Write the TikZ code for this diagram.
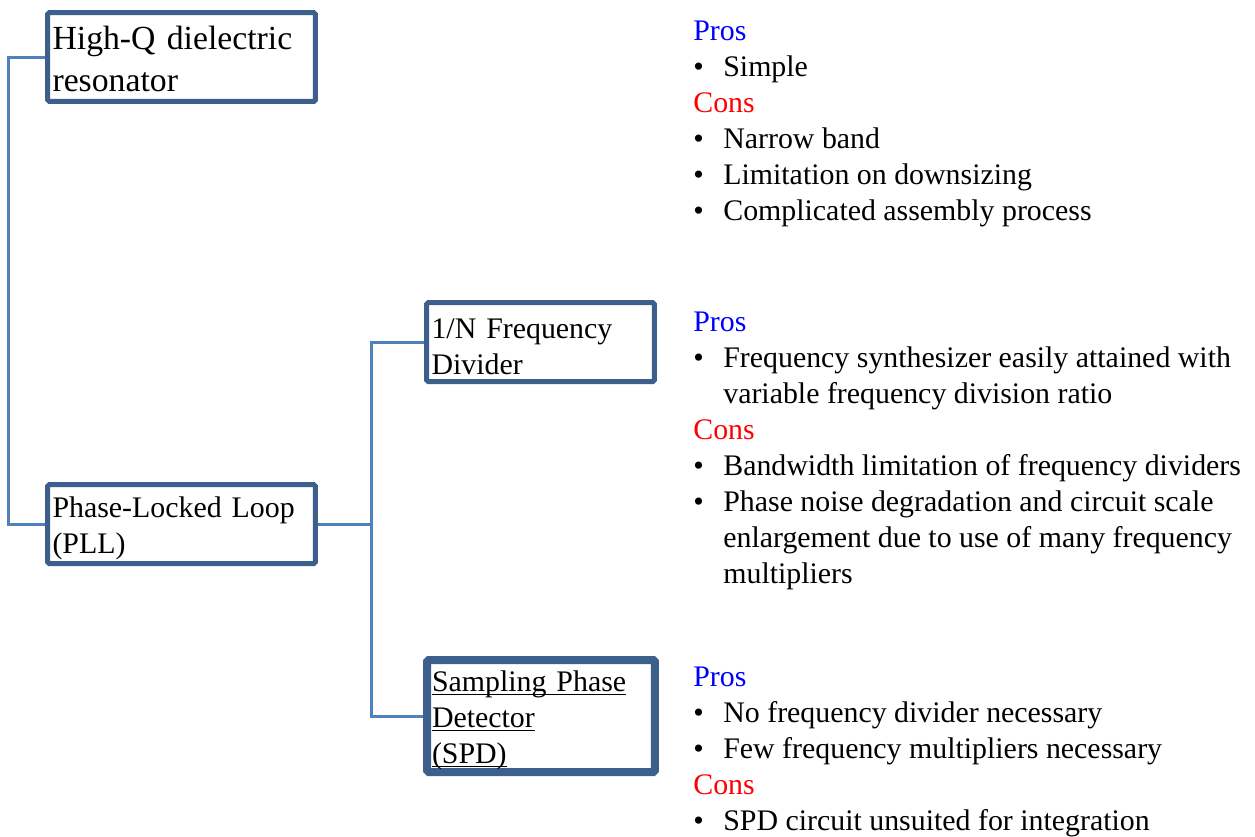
\documentclass[tikz,border=0pt]{standalone}
\usepackage{fontspec}
\setmainfont{Liberation Serif}
\definecolor{boxblue}{RGB}{60,95,140}
\definecolor{linkblue}{RGB}{79,129,189}
\newcommand{\itm}{\makebox[0.6cm][l]{\textbullet}}
\newcommand{\cont}{\hspace*{0.6cm}}
\newcommand{\pro}{\textcolor{blue}{Pros}}
\newcommand{\con}{\textcolor{red}{Cons}}
\newcommand{\uline}[1]{\underline{\smash{#1}}}
\begin{document}
\begin{tikzpicture}[x=0.02cm,y=-0.02cm,
  box/.style={draw=boxblue,line width=0.1cm,rounded corners=1pt,
    inner xsep=0.1cm,inner ysep=0pt,align=left,text height=17pt,
    font=\fontsize{17}{20.5}\selectfont},
  link/.style={draw=linkblue,line width=0.06cm},
  notes/.style={anchor=north west,inner sep=0pt,align=left,
    font=\fontsize{17}{20.5}\selectfont}]
  \useasboundingbox (0,0) rectangle (1255,836);
  % left column
  \node[box,minimum width=5.36cm,minimum height=1.78cm,text width=5.16cm,
    text height=15.5pt,font=\fontsize{19.2}{23.8}\selectfont] (hiq)
    at (181.5,57) {High-Q dielectric\\resonator};
  \node[box,minimum width=5.36cm,minimum height=1.58cm,text width=5.16cm]
    (pll) at (181.5,524) {Phase-Locked Loop\\(PLL)};
  % middle column
  \node[box,minimum width=4.56cm,minimum height=1.58cm,text width=4.36cm]
    (div) at (540.5,342) {1/N Frequency\\Divider};
  \node[box,line width=0.16cm,minimum width=4.56cm,minimum height=2.24cm,
    text width=4.36cm,text height=15.5pt] (spd) at (541,716)
    {\uline{Sampling Phase}\\\uline{Detector}\\\uline{(SPD)}};
  % connectors
  \draw[link] (hiq.west) -- ++(-37,0) |- (pll.west);
  \draw[link] (pll.east) -- ++(54,0) coordinate (fork);
  \draw[link] (fork) |- (div.west);
  \draw[link] (fork) |- (spd.west);
  % pros and cons
  \node[notes] (hiqnotes) at (693,20.5) {\pro\\
    \itm Simple\\
    \con\\
    \itm Narrow band\\
    \itm Limitation on downsizing\\
    \itm Complicated assembly process};
  \node[notes] (divnotes) at (693,311.5) {\pro\\
    \itm Frequency synthesizer easily attained with\\
    \cont variable frequency division ratio\\
    \con\\
    \itm Bandwidth limitation of frequency dividers\\
    \itm Phase noise degradation and circuit scale\\
    \cont enlargement due to use of many frequency\\
    \cont multipliers};
  \node[notes] (spdnotes) at (693,666.5) {\pro\\
    \itm No frequency divider necessary\\
    \itm Few frequency multipliers necessary\\
    \con\\
    \itm SPD circuit unsuited for integration};
\end{tikzpicture}
\end{document}
